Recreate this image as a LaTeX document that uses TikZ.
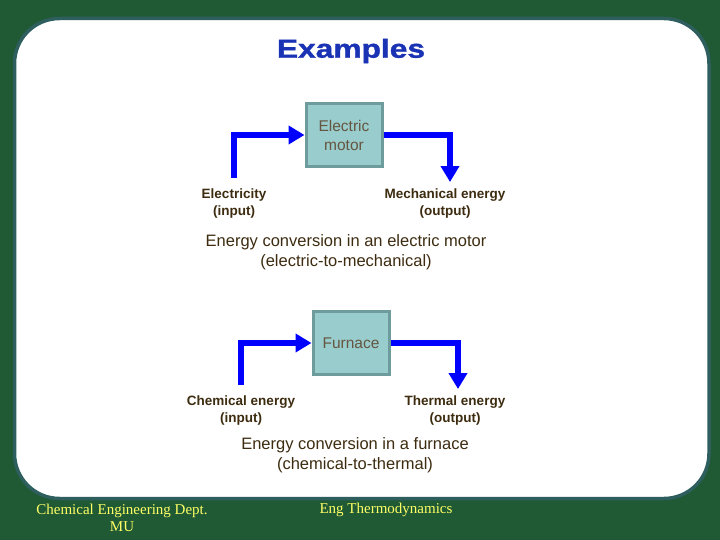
\documentclass[tikz,border=0pt]{standalone}
\usepackage{fontspec}
\setmainfont{Liberation Sans}
\newfontfamily\footfont{Liberation Serif}
\newfontfamily\titlefont{Liberation Sans Bold}[FakeBold=1.2]
\usetikzlibrary{arrows.meta,positioning}

\definecolor{bggreen}{HTML}{1F5A34}
\definecolor{rimteal}{HTML}{2E5E5E}
\definecolor{boxfill}{HTML}{99CCCC}
\definecolor{boxline}{HTML}{6E9C9C}
\definecolor{flowblue}{HTML}{0000FF}
\definecolor{titleblue}{HTML}{1A32B4}
\definecolor{inkbrown}{HTML}{3D2C10}
\definecolor{footyellow}{HTML}{FFFF66}

\begin{document}
\begin{tikzpicture}[
    x=1pt, y=-1pt,
    unit/.style={
        rectangle,
        draw=boxline,
        line width=3pt,
        fill=boxfill,
        minimum width=76pt,
        minimum height=63pt,
        align=center,
        text=inkbrown!80,
        font=\fontsize{15.5}{19}\selectfont
    },
    tag/.style={
        align=center,
        inner sep=2pt,
        text=inkbrown,
        font=\bfseries\fontsize{13.5}{17}\selectfont
    },
    caption/.style={
        align=center,
        text=inkbrown,
        font=\fontsize{16.5}{19.5}\selectfont
    },
    foot/.style={
        align=center,
        text=footyellow,
        font=\footfont\fontsize{15}{17}\selectfont
    },
    flow/.style={draw=flowblue, line width=6pt, -{Triangle[length=16pt,width=18pt]}},
    inflow/.style={flow, shorten <=9pt},
    outflow/.style={flow, shorten >=5pt},
]

% background and panel
\useasboundingbox (0,0) rectangle (720,540);
\fill[bggreen] (0,0) rectangle (720,540);
\draw[rimteal, line width=3.5pt, fill=white, rounded corners=45pt]
    (14.5,18.5) rectangle (709,498.5);

% title
\node[text=titleblue, font=\titlefont\fontsize{26}{30}\selectfont] (title) at (351,51)
    {\scalebox{1.22}[1]{Examples}};

% electric motor
\node[unit] (motor) at (344,135) {Electric\\motor};
\node[tag] (elec) at (234,204) {Electricity\\(input)};
\node[tag] (mech) at (445,204) {Mechanical energy\\(output)};
\node[caption] (cap1) at (346,252)
    {Energy conversion in an electric motor\\(electric-to-mechanical)};

\draw[inflow] (elec.north) |- (motor.west);
\draw[outflow] (motor.east) -| ([xshift=5pt]mech.north);

% furnace
\node[unit] (furnace) at (351,343) {Furnace};
\node[tag] (chem) at (241,411) {Chemical energy\\(input)};
\node[tag] (therm) at (455,411) {Thermal energy\\(output)};
\node[caption] (cap2) at (355,455)
    {Energy conversion in a furnace\\(chemical-to-thermal)};

\draw[inflow] (chem.north) |- (furnace.west);
\draw[outflow] (furnace.east) -| ([xshift=3pt]therm.north);

% footer
\node[foot] (dept) at (122,518) {Chemical Engineering Dept.\\MU};
\node[foot] (course) at (386,510) {Eng Thermodynamics};

\end{tikzpicture}
\end{document}
